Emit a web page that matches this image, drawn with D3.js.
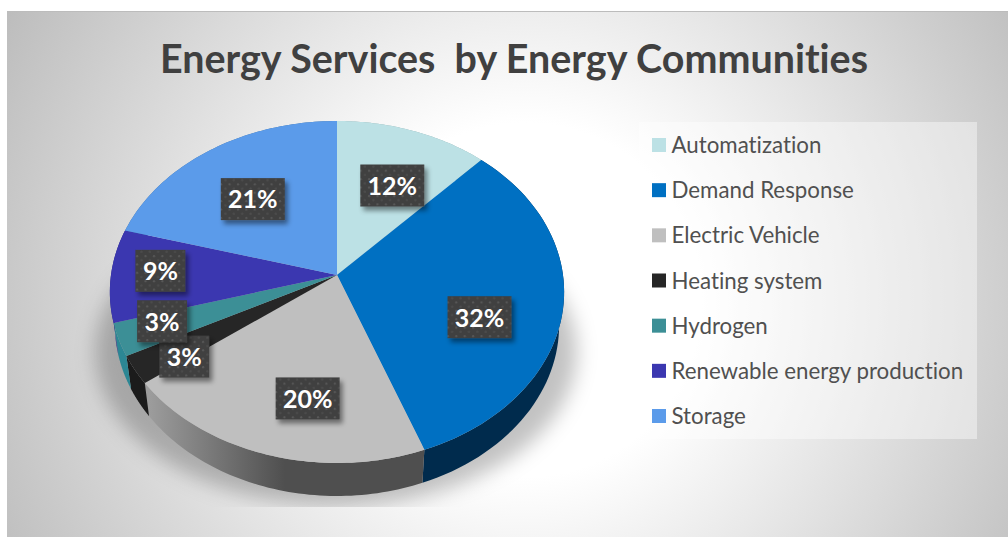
<!DOCTYPE html>
<html>
<head>
<meta charset="utf-8">
<style>
  html, body { margin: 0; padding: 0; background: #fff; }
  svg { display: block; }
  text { font-family: Lato, "Open Sans", sans-serif; white-space: pre; font-variant-ligatures: none; }
</style>
</head>
<body>
<svg width="1008" height="537"></svg>
<script src="https://cdn.jsdelivr.net/npm/d3@7"></script>
<script>
// DATA
const titleText = "Energy Services  by Energy Communities";
const categories = ["Automatization", "Demand Response", "Electric Vehicle", "Heating system", "Hydrogen", "Renewable energy production", "Storage"];
const values = [12.0, 32.3, 20.45, 2.7, 3.1, 8.8, 20.65];
const topColors = ["#bce1e5", "#0070c2", "#bfbfbf", "#262626", "#3c8f96", "#3b37b0", "#5b9bea"];
const wallColors = ["#8aa8ab", "#002b4d", "url(#wallGray)", "#1b1b1b", "#2c8794", "#2a2780", "#41709f"];

const svg = d3.select("svg");

// CONSTANTS
const cx = 337, cy = 275;   // pie apex
const rx = 226, ry = 169.3; // flat radii before the perspective
const persp = 0.0994;       // near edge looks bigger than the far edge
const depth = 33, bottomScale = 0.978;

// the pie is tilted, so the centre of the slices is not the centre of the ellipse
function project(angle, r = 1) {
  const s = -Math.cos(angle) * r;
  const w = 1 - persp * s;
  return [cx + rx * r * Math.sin(angle) / w, cy + ry * s / w];
}
const lower = ([x, y]) => [cx + (x - cx) * bottomScale, y + depth];
const arcPoints = (a0, a1) => d3.range(0, 61).map(i => project(a0 + (a1 - a0) * i / 60));

const line = d3.line();
const color = d3.scaleOrdinal(categories, topColors);
const wallColor = d3.scaleOrdinal(categories, wallColors);
const legendY = d3.scalePoint(categories, [145, 416]);
const pct = d3.format(".0%");

const slices = d3.pie().sort(null).value(d => d.value)(
  categories.map((name, i) => ({ name, value: values[i] }))
);

// DEFS
const defs = svg.append("defs");

const bg = defs.append("radialGradient")
  .attr("id", "bg").attr("gradientUnits", "userSpaceOnUse")
  .attr("cx", 525).attr("cy", 300).attr("r", 590);
bg.append("stop").attr("offset", 0.3).attr("stop-color", "#ffffff");
bg.append("stop").attr("offset", 1).attr("stop-color", "#bdbdbd");

const wallGray = defs.append("linearGradient")
  .attr("id", "wallGray").attr("gradientUnits", "userSpaceOnUse")
  .attr("x1", 150).attr("x2", 285).attr("y1", 0).attr("y2", 0);
wallGray.append("stop").attr("offset", 0).attr("stop-color", "#9c9c9c");
wallGray.append("stop").attr("offset", 1).attr("stop-color", "#4f4f4f");

defs.append("filter").attr("id", "pieBlur")
  .attr("x", "-20%").attr("y", "-20%").attr("width", "140%").attr("height", "140%")
  .append("feGaussianBlur").attr("stdDeviation", 10);

defs.append("clipPath").attr("id", "floor")
  .append("rect").attr("x", 7).attr("y", 11).attr("width", 1001).attr("height", 496);

const boxShadow = defs.append("filter").attr("id", "boxShadow")
  .attr("x", "-20%").attr("y", "-20%").attr("width", "150%").attr("height", "160%");
boxShadow.append("feDropShadow")
  .attr("dx", 3).attr("dy", 4).attr("stdDeviation", 2.5)
  .attr("flood-color", "#000").attr("flood-opacity", 0.45);

const dots = defs.append("pattern")
  .attr("id", "dots").attr("patternUnits", "userSpaceOnUse")
  .attr("width", 8.4).attr("height", 8.4);
dots.append("rect").attr("width", 8.4).attr("height", 8.4).attr("fill", "#404040");
dots.append("circle").attr("cx", 2).attr("cy", 2).attr("r", 1.1).attr("fill", "#585858");
dots.append("circle").attr("cx", 6.2).attr("cy", 6.2).attr("r", 1.1).attr("fill", "#4e4e4e");

// BACKGROUND
svg.append("rect").attr("x", 7).attr("y", 11).attr("width", 1001).attr("height", 526).attr("fill", "url(#bg)");
svg.append("rect").attr("x", 7).attr("y", 11).attr("width", 1001).attr("height", 1).attr("fill", "#bcbcbc");

// TITLE
svg.append("text")
  .attr("x", 160).attr("y", 73)
  .attr("textLength", 708).attr("lengthAdjust", "spacingAndGlyphs")
  .attr("font-size", 39.5).attr("font-weight", 700).attr("fill", "#404040")
  .text(titleText);

// LEGEND
svg.append("rect")
  .attr("x", 639).attr("y", 122).attr("width", 338).attr("height", 317)
  .attr("fill", "#fff").attr("fill-opacity", 0.42);

const legendRows = svg.selectAll(".legend-row").data(categories).enter()
  .append("g").attr("class", "legend-row")
  .attr("transform", d => `translate(652, ${legendY(d)})`);
legendRows.append("rect")
  .attr("y", -7).attr("width", 14).attr("height", 14)
  .attr("fill", d => color(d));
legendRows.append("text")
  .attr("x", 19.5).attr("y", 8)
  .attr("font-size", 22.3).attr("fill", "#505050")
  .text(d => d);

// SHADOW
// drawn lower and squashed, only its rim shows round the walls
const shadowPts = arcPoints(0, 2 * Math.PI)
  .map(([x, y]) => [cx - 1 + (x - cx) * 1.06, (y - 292) * 0.9 + 352]);
svg.append("g").attr("clip-path", "url(#floor)")
  .append("path")
  .attr("d", line(shadowPts) + "Z")
  .attr("fill", "#000").attr("fill-opacity", 0.24)
  .attr("filter", "url(#pieBlur)");

// WALLS
svg.selectAll(".wall").data(slices).enter()
  .append("path").attr("class", "wall")
  .attr("d", d => {
    const top = arcPoints(d.startAngle, d.endAngle);
    return line(top.concat(top.map(lower).reverse())) + "Z";
  })
  .attr("fill", d => wallColor(d.data.name));

// TOP FACES
svg.selectAll(".slice").data(slices).enter()
  .append("path").attr("class", "slice")
  .attr("d", d => line([[cx, cy]].concat(arcPoints(d.startAngle, d.endAngle))) + "Z")
  .attr("fill", d => color(d.data.name));

// LABELS
// best fit placement, nudged off the slice centre by hand
const labelNudge = [[8, 0], [8, 22], [11, 20], [-34, 26], [-46, 8], [-41, -4.5], [-6, 1.4]];

const labels = svg.selectAll(".label").data(slices).enter()
  .append("g").attr("class", "label")
  .attr("transform", (d, i) => {
    const [x, y] = project((d.startAngle + d.endAngle) / 2, 0.6);
    return `translate(${x + labelNudge[i][0]}, ${y + labelNudge[i][1]})`;
  });
labels.append("rect")
  .attr("x", d => d.value >= 9.5 ? -32 : -25)
  .attr("y", -21)
  .attr("width", d => d.value >= 9.5 ? 64 : 50)
  .attr("height", 42)
  .attr("fill", "url(#dots)")
  .attr("filter", "url(#boxShadow)");
labels.append("text")
  .attr("text-anchor", "middle").attr("y", 9.3)
  .attr("font-size", 25).attr("font-weight", 700).attr("fill", "#fff")
  .text(d => pct(d.value / 100));
</script>
</body>
</html>
